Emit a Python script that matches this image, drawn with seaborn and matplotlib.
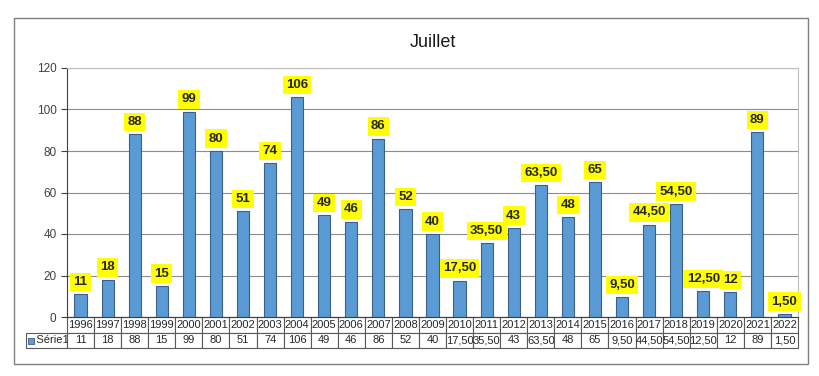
import matplotlib
matplotlib.use("Agg")
import matplotlib.pyplot as plt
import seaborn as sns
import pandas as pd
from matplotlib.patches import Rectangle

years = [str(y) for y in range(1996, 2023)]
values = [11, 18, 88, 15, 99, 80, 51, 74, 106, 49, 46, 86, 52, 40, 17.5,
          35.5, 43, 63.5, 48, 65, 9.5, 44.5, 54.5, 12.5, 12, 89, 1.5]
series_name = "Série1"
title = "Juillet"


def fr(v):
    # format like the original: integer or comma decimals
    if float(v).is_integer():
        return str(int(v))
    return f"{v:.2f}".replace(".", ",")


sns.set_style("white")
plt.rcParams['font.family'] = ['Liberation Sans', 'DejaVu Sans']

df = pd.DataFrame({"year": years, "value": values})

fig = plt.figure(figsize=(8.2, 3.76), dpi=100)
ax = fig.add_axes([67 / 820, 1 - 317 / 376, 731 / 820, 249 / 376])

# outer chart frame
fig.patches.append(Rectangle((14 / 820, 1 - 364 / 376), 794 / 820, 346 / 376,
                             transform=fig.transFigure, fill=False,
                             edgecolor="#7f7f7f", linewidth=1.0))

sns.barplot(data=df, x="year", y="value", ax=ax, width=0.45,
            color="#5B9BD5", edgecolor="#3B5F86", linewidth=0.8,
            saturation=1)

ax.set_xlim(-0.5, len(years) - 0.5)
ax.set_ylim(0, 120)
ax.set_yticks(range(0, 121, 20))
ax.yaxis.grid(True, color="#8c8c8c", linewidth=0.8)
ax.set_axisbelow(True)
ax.set_xlabel("")
ax.set_ylabel("")
ax.set_xticks([])
ax.tick_params(axis="y", labelsize=8.5, colors="#404040", length=4, left=True, width=0.8)
for s in ["top", "right"]:
    ax.spines[s].set_color("#bfbfbf")
ax.spines["left"].set_color("#404040")
ax.spines["bottom"].set_color("#404040")

for i, v in enumerate(values):
    ax.annotate(fr(v), (i, v), xytext=(0, 4.5), textcoords="offset points",
                ha="center", va="bottom", fontsize=9.5, fontweight="bold",
                bbox=dict(boxstyle="square,pad=0.25", facecolor="#FFFF00",
                          edgecolor="none"))

ax.set_title(title, fontsize=13, pad=15, color="#1a1a1a")

# data table beneath the plot
lab_w = 41 / 731
col_w = 1 / len(years)
cell_text = [[""] + years, [series_name] + [fr(v) for v in values]]
tab = ax.table(cellText=cell_text, cellLoc="center",
               bbox=[-lab_w, -31 / 249, 1 + lab_w, 31 / 249])
tab.auto_set_font_size(False)
tab.set_fontsize(8)
for (r, c), cell in tab.get_celld().items():
    cell.set_width(lab_w if c == 0 else col_w)
    cell.set_edgecolor("#595959")
    cell.set_linewidth(0.8)
    cell.PAD = 0.02
    if r == 0 and c == 0:
        cell.visible_edges = ""
    if r == 1 and c == 0:
        cell.get_text().set_text("   " + series_name)
        cell._loc = "left"
        cell.get_text().set_ha("left")

# legend swatch in the table label cell
ax.scatter([-lab_w + 0.007], [-23.5 / 249], marker="s", s=18, color="#5B9BD5",
           edgecolor="#3B5F86", linewidth=0.6, transform=ax.transAxes,
           clip_on=False, zorder=5)

fig.savefig("out.png", dpi=100)
